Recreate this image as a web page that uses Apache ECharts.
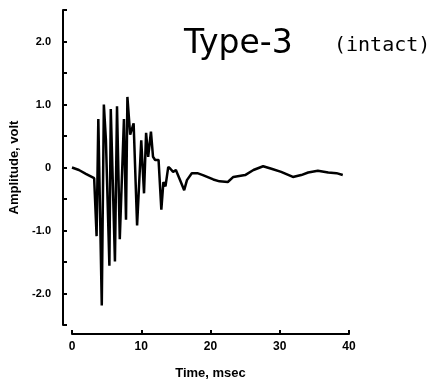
<!DOCTYPE html>
<html>
<head>
    <meta charset="utf-8">
    <title>Type-3 (intact)</title>
    <script type="text/javascript" src="https://cdn.jsdelivr.net/npm/echarts@6/dist/echarts.min.js"></script>
    <style>
        html, body { margin: 0; padding: 0; background: #fff; }
    </style>
</head>
<body>
    <div id="main" style="width: 438px;height:385px;"></div>

    <script type="text/javascript">
        // time (msec) and amplitude (volt)
        var timeMs = [0, 1, 2, 3.2, 3.55, 3.8, 4.3, 4.6, 4.9, 5.4, 5.6, 6.2, 6.5, 6.9, 7.5, 7.8, 8.0, 8.4,
            8.9, 9.4, 10.0, 10.4, 10.7, 11.0, 11.4, 11.7, 12.0, 12.5, 12.9, 13.2, 13.5, 13.9, 14.2, 14.6,
            15.0, 15.6, 16.2, 16.6, 17.3, 18.1, 18.9, 20.4, 21.3, 22.5, 23.3, 25.0, 26.2, 27.6, 28.8,
            30.2, 31.9, 33.1, 34.1, 35.5, 37.0, 38.2, 39.1];
        var amplitude = [0, -0.04, -0.1, -0.17, -1.09, 0.77, -2.19, 1.0, 0.43, -1.56, 0.93, -1.49, 0.97, -1.14,
            0.77, -0.83, 1.12, 0.52, 0.70, -0.92, 0.43, -0.41, 0.55, 0.17, 0.57, 0.17, 0.12, 0.12, -0.67,
            -0.23, -0.3, 0.01, -0.02, -0.07, -0.04, -0.2, -0.36, -0.2, -0.09, -0.09, -0.12, -0.19, -0.22,
            -0.23, -0.15, -0.12, -0.04, 0.02, -0.02, -0.07, -0.15, -0.12, -0.08, -0.05, -0.08, -0.09, -0.12];

        // tick labels
        var yTicks = [-2, -1, 0, 1, 2];
        var yTickLabels = ['-2.0', '-1.0', '0', '1.0', '2.0'];
        var xTicks = [0, 10, 20, 30, 40];

        var points = [];
        for (var i = 0; i < timeMs.length; i++) {
            points.push([timeMs[i], amplitude[i]]);
        }

        var myChart = echarts.init(document.getElementById('main'));
        myChart.setOption({
            animation: false,
            backgroundColor: '#fff',
            title: [{
                text: 'Type-3',
                left: 179,
                top: 23,
                textStyle: { fontFamily: 'DejaVu Sans', fontSize: 33, fontWeight: 'normal', color: '#000' }
            }, {
                text: '(intact)',
                left: 329,
                top: 31,
                textStyle: { fontFamily: 'DejaVu Sans Mono', fontSize: 20, fontWeight: 'normal', color: '#000' }
            }],
            grid: { left: 72, right: 89, top: 10, bottom: 60 },
            xAxis: {
                type: 'value',
                min: 0, max: 40, interval: 10,
                offset: 9,
                name: 'Time, msec',
                nameLocation: 'middle',
                nameGap: 33,
                nameTextStyle: { fontFamily: 'Liberation Sans', fontSize: 13, fontWeight: 'bold', color: '#000' },
                axisLine: { onZero: false, lineStyle: { color: '#000', width: 2 } },
                axisTick: { inside: true, length: 4, lineStyle: { color: '#000', width: 2 } },
                axisLabel: {
                    margin: 7,
                    fontFamily: 'Liberation Sans', fontSize: 12, fontWeight: 'bold', color: '#000',
                    formatter: function (v) { return xTicks.indexOf(v) >= 0 ? String(v) : ''; }
                },
                splitLine: { show: false }
            },
            yAxis: {
                type: 'value',
                min: -2.5, max: 2.5, interval: 0.5,
                offset: 9,
                name: 'Amplitude, volt',
                nameLocation: 'middle',
                nameGap: 40,
                nameTextStyle: { fontFamily: 'Liberation Sans', fontSize: 13, fontWeight: 'bold', color: '#000' },
                axisLine: { onZero: false, lineStyle: { color: '#000', width: 2 } },
                axisTick: { inside: true, length: 4, lineStyle: { color: '#000', width: 2 } },
                axisLabel: {
                    margin: 12,
                    fontFamily: 'Liberation Sans', fontSize: 11, fontWeight: 'bold', color: '#000',
                    formatter: function (v) {
                        var k = yTicks.indexOf(Math.round(v * 10) / 10);
                        return k >= 0 ? yTickLabels[k] : '';
                    }
                },
                splitLine: { show: false }
            },
            series: [{
                type: 'line',
                data: points,
                showSymbol: false,
                lineStyle: { color: '#000', width: 2.5 }
            }]
        });
    </script>
</body>
</html>
